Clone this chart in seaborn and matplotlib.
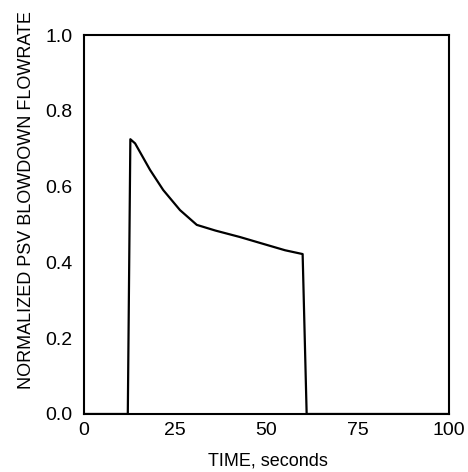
import matplotlib
matplotlib.use("Agg")
import matplotlib.pyplot as plt
import seaborn as sns
import pandas as pd
from matplotlib.ticker import MultipleLocator

time_s = [0, 12.0, 12.7, 14.0, 18.1, 21.7, 26.3, 30.9, 36.0, 42.7, 48.0, 51.9, 55.1, 59.9, 61.0, 100]
flow = [0, 0, 0.725, 0.714, 0.644, 0.591, 0.538, 0.499, 0.484, 0.467, 0.452, 0.441, 0.432, 0.422, 0, 0]
x_ticks = [0, 25, 50, 75, 100]
y_ticks = [0.0, 0.2, 0.4, 0.6, 0.8, 1.0]
x_label = "TIME, seconds"
y_label = "NORMALIZED PSV BLOWDOWN FLOWRATE"

sns.set_style("white")
plt.rcParams['font.family'] = ['Liberation Sans', 'DejaVu Sans']

df = pd.DataFrame({"t": time_s, "q": flow})
fig = plt.figure(figsize=(4.68, 4.72), dpi=100)
ax = fig.add_axes([84/468, 1 - 414/472, (449-84)/468, (414-35)/472])
sns.lineplot(data=df, x="t", y="q", ax=ax, color="black", linewidth=1.6,
             estimator=None, sort=False)
ax.set_xlim(0, 100)
ax.set_ylim(0, 1.0)
ax.set_xticks(x_ticks)
ax.set_yticks(y_ticks)
ax.set_xticklabels([str(v) for v in x_ticks])
ax.set_yticklabels([f"{v:.1f}" for v in y_ticks])
ax.xaxis.set_minor_locator(MultipleLocator(12.5))
ax.yaxis.set_minor_locator(MultipleLocator(0.1))
ax.tick_params(axis="both", which="major", direction="in", length=6, width=1.3,
               labelsize=14, top=False, right=False, colors="black")
ax.tick_params(axis="x", which="major", pad=6)
ax.tick_params(axis="y", which="major", pad=8.5)
ax.tick_params(axis="both", which="minor", direction="in", length=4, width=1.3,
               top=False, right=False)
for s in ax.spines.values():
    s.set_color("black")
    s.set_linewidth(1.5)
ax.set_xlabel(x_label, fontsize=13, color="black")
ax.set_ylabel(y_label, fontsize=13, color="black")
ax.xaxis.set_label_coords((268-84)/365, (414-452)/379)
ax.yaxis.set_label_coords((35-84)/365, (414-200)/379)
fig.savefig("out.png", dpi=100, facecolor="white")
